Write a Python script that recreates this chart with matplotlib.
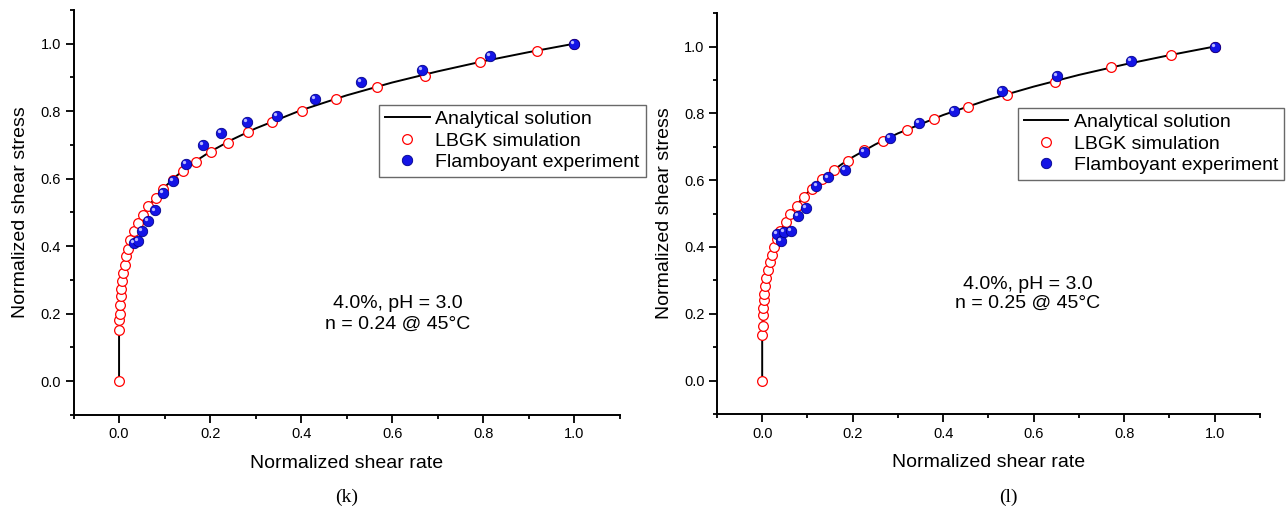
import matplotlib
matplotlib.use("Agg")
import matplotlib.pyplot as plt
from matplotlib.ticker import MultipleLocator
from matplotlib.transforms import offset_copy

plt.rcParams["font.family"] = ["Liberation Sans", "DejaVu Sans"]

# ---- panel (k): n = 0.24 ----
K_LINE_X = [0, 0, 0.0004, 0.001, 0.003, 0.005, 0.01, 0.02, 0.03, 0.04, 0.06, 0.08, 0.1, 0.125,
            0.15, 0.175, 0.2, 0.25, 0.3, 0.4, 0.5, 0.6, 0.7, 0.8, 0.9, 1.0]
K_LINE_Y = [0, 0.153, 0.153, 0.191, 0.248, 0.280, 0.331, 0.391, 0.431, 0.462, 0.509, 0.545, 0.575, 0.607,
            0.634, 0.658, 0.680, 0.717, 0.749, 0.803, 0.847, 0.885, 0.918, 0.948, 0.975, 1.0]
K_LBGK_X = [0, 0.0004, 0.0008, 0.0015, 0.002, 0.0035, 0.0045, 0.006, 0.008,
            0.012, 0.016, 0.020, 0.025, 0.033, 0.042, 0.053, 0.064, 0.081, 0.097,
            0.118, 0.140, 0.168, 0.201, 0.240, 0.284, 0.337, 0.401, 0.477, 0.566,
            0.673, 0.793, 0.918, 1.0]
K_LBGK_Y = [0, 0.153, 0.180, 0.200, 0.227, 0.252, 0.274, 0.296, 0.320,
            0.343, 0.370, 0.392, 0.417, 0.444, 0.468, 0.494, 0.519, 0.543, 0.570,
            0.596, 0.622, 0.649, 0.678, 0.707, 0.737, 0.769, 0.802, 0.836, 0.871,
            0.905, 0.945, 0.977, 1.0]
K_EXP_X = [0.033, 0.041, 0.051, 0.063, 0.078, 0.097, 0.119, 0.148, 0.184, 0.224, 0.282,
           0.347, 0.431, 0.531, 0.665, 0.815, 1.0]
K_EXP_Y = [0.409, 0.415, 0.444, 0.476, 0.506, 0.557, 0.593, 0.643, 0.699, 0.736, 0.768,
           0.787, 0.836, 0.886, 0.922, 0.964, 1.0]

# ---- panel (l): n = 0.25 ----
L_LINE_X = [0, 0, 0.0003, 0.001, 0.003, 0.005, 0.01, 0.02, 0.03, 0.04, 0.06, 0.08, 0.1, 0.125,
            0.15, 0.175, 0.2, 0.25, 0.3, 0.4, 0.5, 0.6, 0.7, 0.8, 0.9, 1.0]
L_LINE_Y = [0, 0.137, 0.137, 0.178, 0.234, 0.266, 0.316, 0.376, 0.416, 0.447, 0.495, 0.532, 0.562, 0.595,
            0.622, 0.647, 0.669, 0.707, 0.740, 0.795, 0.841, 0.880, 0.915, 0.946, 0.974, 1.0]
L_LBGK_X = [0, 0.0004, 0.0007, 0.0014, 0.0023, 0.0033, 0.0046, 0.0065, 0.0088,
            0.013, 0.017, 0.021, 0.027, 0.033, 0.040, 0.053, 0.062, 0.077, 0.093,
            0.111, 0.133, 0.159, 0.189, 0.224, 0.268, 0.319, 0.380, 0.454, 0.542,
            0.648, 0.772, 0.903, 1.0]
L_LBGK_Y = [0, 0.137, 0.163, 0.195, 0.218, 0.240, 0.260, 0.284, 0.306,
            0.331, 0.354, 0.377, 0.399, 0.424, 0.449, 0.474, 0.499, 0.524, 0.549,
            0.573, 0.602, 0.629, 0.657, 0.689, 0.716, 0.750, 0.783, 0.818, 0.856,
            0.895, 0.938, 0.976, 1.0]
L_EXP_X = [0.032, 0.042, 0.049, 0.064, 0.079, 0.096, 0.120, 0.146, 0.183, 0.225, 0.283,
           0.347, 0.424, 0.529, 0.651, 0.815, 1.0]
L_EXP_Y = [0.439, 0.417, 0.446, 0.449, 0.494, 0.517, 0.582, 0.608, 0.631, 0.684, 0.725,
           0.772, 0.806, 0.866, 0.911, 0.958, 1.0]

PANELS = [
    ("(k)", "4.0%, pH = 3.0\nn = 0.24 @ 45°C", K_LINE_X, K_LINE_Y, K_LBGK_X, K_LBGK_Y, K_EXP_X, K_EXP_Y),
    ("(l)", "4.0%, pH = 3.0\nn = 0.25 @ 45°C", L_LINE_X, L_LINE_Y, L_LBGK_X, L_LBGK_Y, L_EXP_X, L_EXP_Y),
]

fig = plt.figure(figsize=(12.86, 5.12), dpi=100)
axes = [fig.add_axes([0.0572, 0.1895, 0.4246, 0.791]),
        fig.add_axes([0.5575, 0.1914, 0.4222, 0.783])]
note_pos = [(0.593, 0.25), (0.573, 0.30)]
note_spacing = [1.31, 1.15]
leg_pos = [(0.5595, 0.766), (0.554, 0.764)]
tag_x = [347 / 1286, 1008 / 1286]

for i, (ax, (tag, note, lx, ly, sx, sy, ex, ey)) in enumerate(zip(axes, PANELS)):
    ax.plot(lx, ly, color="black", lw=1.4, label="Analytical solution", zorder=2)
    ax.plot(sx, sy, ls="none", marker="o", ms=7.0, mfc="white", mec="red", mew=0.9,
            label="LBGK simulation", zorder=3)
    ax.plot(ex, ey, ls="none", marker="o", ms=7.5, mfc="#1414e6", mec="#00008c", mew=0.6,
            label="Flamboyant experiment", zorder=4)
    # little highlight to mimic the shaded spheres
    hl = offset_copy(ax.transData, fig=fig, x=-1.4, y=1.4, units="points")
    ax.plot(ex, ey, ls="none", marker="o", ms=2.4, mfc="#b8b8ff", mec="none",
            transform=hl, zorder=5)

    ax.set_xlim(-0.1, 1.1)
    ax.set_ylim(-0.1, 1.1)
    ax.xaxis.set_major_locator(MultipleLocator(0.2))
    ax.xaxis.set_minor_locator(MultipleLocator(0.1))
    ax.yaxis.set_major_locator(MultipleLocator(0.2))
    ax.yaxis.set_minor_locator(MultipleLocator(0.1))
    ax.tick_params(which="major", direction="out", length=5.5, width=1.3, labelsize=10.5)
    ax.tick_params(which="minor", direction="out", length=2.8, width=1.3)
    ax.spines["top"].set_visible(False)
    ax.spines["right"].set_visible(False)
    for s in ("left", "bottom"):
        ax.spines[s].set_linewidth(1.4)

    ax.set_xlabel("Normalized shear rate", fontsize=14)
    ax.set_ylabel("Normalized shear stress", fontsize=14)
    ax.xaxis.set_label_coords(0.5, -0.1)
    ax.yaxis.set_label_coords(-0.081, 0.5)

    ax.text(*note_pos[i], note, transform=ax.transAxes, ha="center", va="center",
            fontsize=14, linespacing=note_spacing[i])

    leg = ax.legend(loc="upper left", bbox_to_anchor=leg_pos[i], borderaxespad=0,
                    fontsize=14, frameon=True, fancybox=False, handlelength=2.3,
                    handletextpad=0.3, labelspacing=0.2, borderpad=0.3)
    leg.get_frame().set_edgecolor("#444444")
    leg.get_frame().set_linewidth(1.0)

    fig.text(tag_x[i], 1 - 497 / 512, tag, ha="center", va="center", fontsize=14,
             family=["Liberation Serif", "DejaVu Serif"])

fig.savefig("out.png", dpi=100)
